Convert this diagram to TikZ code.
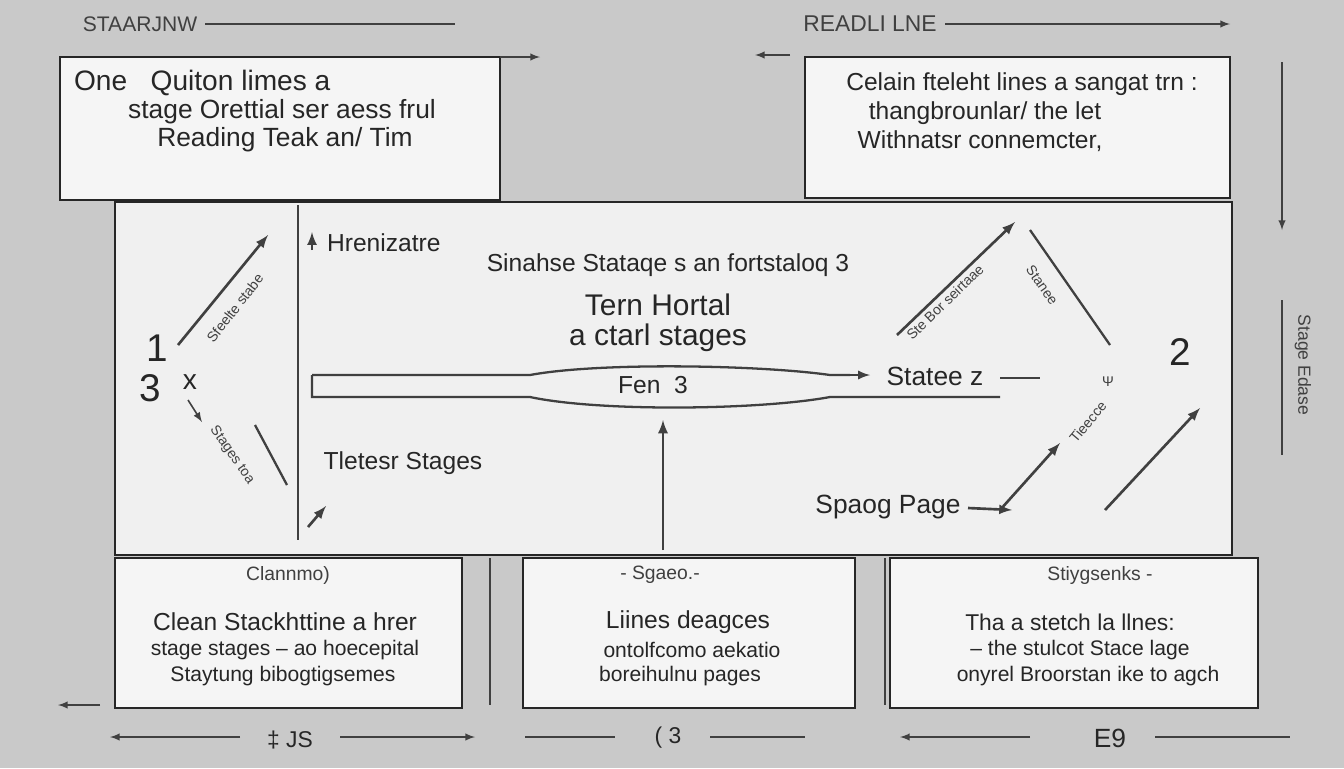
\documentclass[tikz,border=0pt]{standalone}
\usepackage{fontspec}
\setmainfont{Liberation Sans}
\begin{document}
\begin{tikzpicture}[x=0.02cm,y=-0.02cm,
  box/.style={draw=black!85,line width=1.2pt,fill=white!96!black},
  ln/.style={draw=black!75,line width=0.9pt},
  ar/.style={ln,-latex},
  t/.style={font=\fontsize{13}{15}\selectfont,text=black!85,inner sep=1pt},
  tb/.style={font=\fontsize{16}{18}\selectfont,text=black!85,inner sep=1pt},
  small/.style={font=\fontsize{8}{9}\selectfont,text=black!75,inner sep=0.5pt}]
\fill[black!21] (0,0) rectangle (1344,768);
\useasboundingbox (0,0) rectangle (1344,768);
% top headers
\node[small,font=\fontsize{12}{13}\selectfont] (h1) at (140,24) {STAARJNW};
\coordinate (h1a) at (205,24); \coordinate (h1b) at (455,24);
\draw[ln] (h1a) -- (h1b);
\node[small,font=\fontsize{13}{14}\selectfont] (h2) at (870,24) {READLI LNE};
\coordinate (h2a) at (945,24); \coordinate (h2b) at (1230,24);
\draw[ar] (h2a) -- (h2b);
% top boxes
\draw[box] (60,57) rectangle (500,200);
\node[tb,anchor=west] (tl1) at (72,83) {One \ \ Quiton limes a};
\node[t,font=\fontsize{15}{17}\selectfont] (tl2) at (282,112) {stage Orettial ser aess frul};
\node[tb,font=\fontsize{15}{17}\selectfont] (tl3) at (285,140) {Reading Teak an/ Tim};
\coordinate (a1) at (500,57); \coordinate (a2) at (540,57);
\draw[ar] (a1) -- (a2);
\coordinate (a3) at (790,55); \coordinate (a4) at (755,55);
\draw[ar] (a3) -- (a4);
\draw[box] (805,57) rectangle (1230,198);
\node[t,font=\fontsize{14}{16}\selectfont] (tr1) at (1022,84) {Celain fteleht lines a sangat trn :};
\node[t,font=\fontsize{14}{16}\selectfont] (tr2) at (985,113) {thangbrounlar/ the let};
\node[t,font=\fontsize{14}{16}\selectfont] (tr3) at (980,141) {Withnatsr connemcter,};
\coordinate (v1) at (1282,62); \coordinate (v2) at (1282,230);
\draw[ar] (v1) -- (v2);
% main panel
\draw[box,fill=black!6] (115,202) rectangle (1232,555);
\coordinate (m1) at (298,205); \coordinate (m2) at (298,540);
\draw[ln,line width=1.5pt] (m1) -- (m2);
% left part
\node[tb,font=\fontsize{22}{24}\selectfont] (n1) at (157,348) {1};
\node[tb,font=\fontsize{22}{24}\selectfont] (n3) at (150,388) {3};
\node[tb] (nx) at (190,382) {x};
\coordinate (d1) at (178,345); \coordinate (d2) at (268,235);
\draw[ar,line width=1.5pt] (d1) -- (d2);
\node[small,rotate=52] (dl1) at (235,308) {Sfeelte stabe};
\coordinate (d3) at (188,400); \coordinate (d4) at (202,422);
\draw[ar] (d3) -- (d4);
\node[small,rotate=-55] (dl2) at (232,455) {Stages toa};
\coordinate (d5) at (255,425); \coordinate (d6) at (287,485);
\draw[ln,line width=1.3pt] (d5) -- (d6);
\coordinate (d7) at (308,527); \coordinate (d8) at (326,506);
\draw[ar,line width=1.5pt] (d7) -- (d8);
\coordinate (d9) at (312,250); \coordinate (d10) at (312,232);
\draw[ar,line width=1.5pt] (d9) -- (d10);
\node[t,font=\fontsize{14}{16}\selectfont,anchor=west] (hz) at (325,243) {Hrenizatre};
\node[t,font=\fontsize{14}{16}\selectfont] (s1) at (668,265) {Sinahse Stataqe s an fortstaloq 3};
\node[tb,font=\fontsize{17}{19}\selectfont] (s2) at (658,305) {Tern Hortal};
\node[tb,font=\fontsize{17}{19}\selectfont] (s3) at (658,338) {a ctarl stages};
% horizontal bar
\draw[ln,line width=1.3pt] (312,375) -- (530,375) .. controls (600,362) and (760,365) .. (830,375) -- (850,375);
\draw[ln,line width=1.3pt] (312,375) -- (312,397) -- (530,397) .. controls (600,412) and (760,410) .. (830,397) -- (1000,397);
\coordinate (b1) at (840,375); \coordinate (b2) at (870,375);
\draw[ar,line width=1.3pt] (b1) -- (b2);
\node[t,font=\fontsize{14}{16}\selectfont] (fen) at (653,385) {Fen \ 3};
\node[t,font=\fontsize{15}{17}\selectfont] (st) at (935,376) {Statee z};
\coordinate (b3) at (1000,378); \coordinate (b4) at (1040,378);
\draw[ln,line width=1.5pt] (b3) -- (b4);
\coordinate (u1) at (663,550); \coordinate (u2) at (663,420);
\draw[ar,line width=1.6pt] (u1) -- (u2);
\node[t,font=\fontsize{14}{16}\selectfont] (ts) at (403,463) {Tletesr Stages};
% right part
\node[tb,font=\fontsize{22}{24}\selectfont] (n2) at (1180,352) {2};
\coordinate (r1) at (897,335); \coordinate (r2) at (1015,222);
\draw[ar,line width=1.5pt] (r1) -- (r2);
\node[small,rotate=44] (rl1) at (945,302) {Ste Bor seirtaae};
\coordinate (r3) at (1030,230); \coordinate (r4) at (1110,345);
\draw[ln,line width=1.3pt] (r3) -- (r4);
\node[small,rotate=-55] (rl2) at (1042,285) {Stanee};
\node[small] (rq) at (1108,382) {Ψ};
\node[small,rotate=50] (rl3) at (1088,422) {Tieecce};
\coordinate (r5) at (1000,510); \coordinate (r6) at (1060,443);
\draw[ar,line width=1.5pt] (r5) -- (r6);
\coordinate (r7) at (1105,510); \coordinate (r8) at (1200,408);
\draw[ar,line width=1.5pt] (r7) -- (r8);
\node[t,font=\fontsize{15}{17}\selectfont] (sp) at (888,507) {Spaog Page};
\coordinate (r9) at (968,508); \coordinate (r10) at (1012,510);
\draw[ar,line width=1.5pt] (r9) -- (r10);
\node[small,rotate=-90,font=\fontsize{10}{11}\selectfont] (rv) at (1303,365) {Stage Edase};
\coordinate (rv1) at (1282,300); \coordinate (rv2) at (1282,455);
\draw[ln] (rv1) -- (rv2);
% bottom boxes
\draw[box] (115,558) rectangle (462,708);
\draw[box] (523,558) rectangle (855,708);
\draw[box] (890,558) rectangle (1258,708);
\coordinate (bv1) at (490,558); \coordinate (bv2) at (490,705);
\draw[ln] (bv1) -- (bv2);
\coordinate (bv3) at (885,558); \coordinate (bv4) at (885,705);
\draw[ln] (bv3) -- (bv4);
\node[small,font=\fontsize{11}{12}\selectfont] (c1) at (288,575) {Clannmo)};
\node[t,font=\fontsize{14}{16}\selectfont] (c2) at (285,622) {Clean Stackhttine a hrer};
\node[t,font=\fontsize{12}{14}\selectfont] (c3) at (285,650) {stage stages -- ao hoecepital};
\node[t,font=\fontsize{12}{14}\selectfont] (c4) at (283,676) {Staytung bibogtigsemes};
\node[small,font=\fontsize{11}{12}\selectfont] (e1) at (660,575) {- Sgaeo.-};
\node[t,font=\fontsize{14}{16}\selectfont] (e2) at (688,622) {Liines deagces};
\node[t,font=\fontsize{12}{14}\selectfont] (e3) at (692,650) {ontolfcomo aekatio};
\node[t,font=\fontsize{12}{14}\selectfont] (e4) at (680,676) {boreihulnu pages};
\node[small,font=\fontsize{11}{12}\selectfont] (f1) at (1100,575) {Stiygsenks -};
\node[t,font=\fontsize{13}{15}\selectfont] (f2) at (1070,622) {Tha a stetch la llnes:};
\node[t,font=\fontsize{12}{14}\selectfont] (f3) at (1080,650) {-- the stulcot Stace lage};
\node[t,font=\fontsize{12}{14}\selectfont] (f4) at (1088,676) {onyrel Broorstan ike to agch};
% bottom row
\coordinate (g1) at (100,705); \coordinate (g2) at (58,705);
\draw[ar] (g1) -- (g2);
\coordinate (k1) at (240,737); \coordinate (k2) at (110,737);
\draw[ar] (k1) -- (k2);
\node[t] (k3) at (290,740) {‡ JS};
\coordinate (k4) at (340,737); \coordinate (k5) at (475,737);
\draw[ar] (k4) -- (k5);
\coordinate (k6) at (525,737); \coordinate (k7) at (615,737);
\draw[ln] (k6) -- (k7);
\node[t] (k8) at (668,738) {( 3};
\coordinate (k9) at (710,737); \coordinate (k10) at (805,737);
\draw[ln] (k9) -- (k10);
\coordinate (k11) at (1030,737); \coordinate (k12) at (900,737);
\draw[ar] (k11) -- (k12);
\node[t,font=\fontsize{15}{17}\selectfont] (k13) at (1110,738) {E9};
\coordinate (k14) at (1155,737); \coordinate (k15) at (1290,737);
\draw[ln] (k14) -- (k15);
\end{tikzpicture}
\end{document}
